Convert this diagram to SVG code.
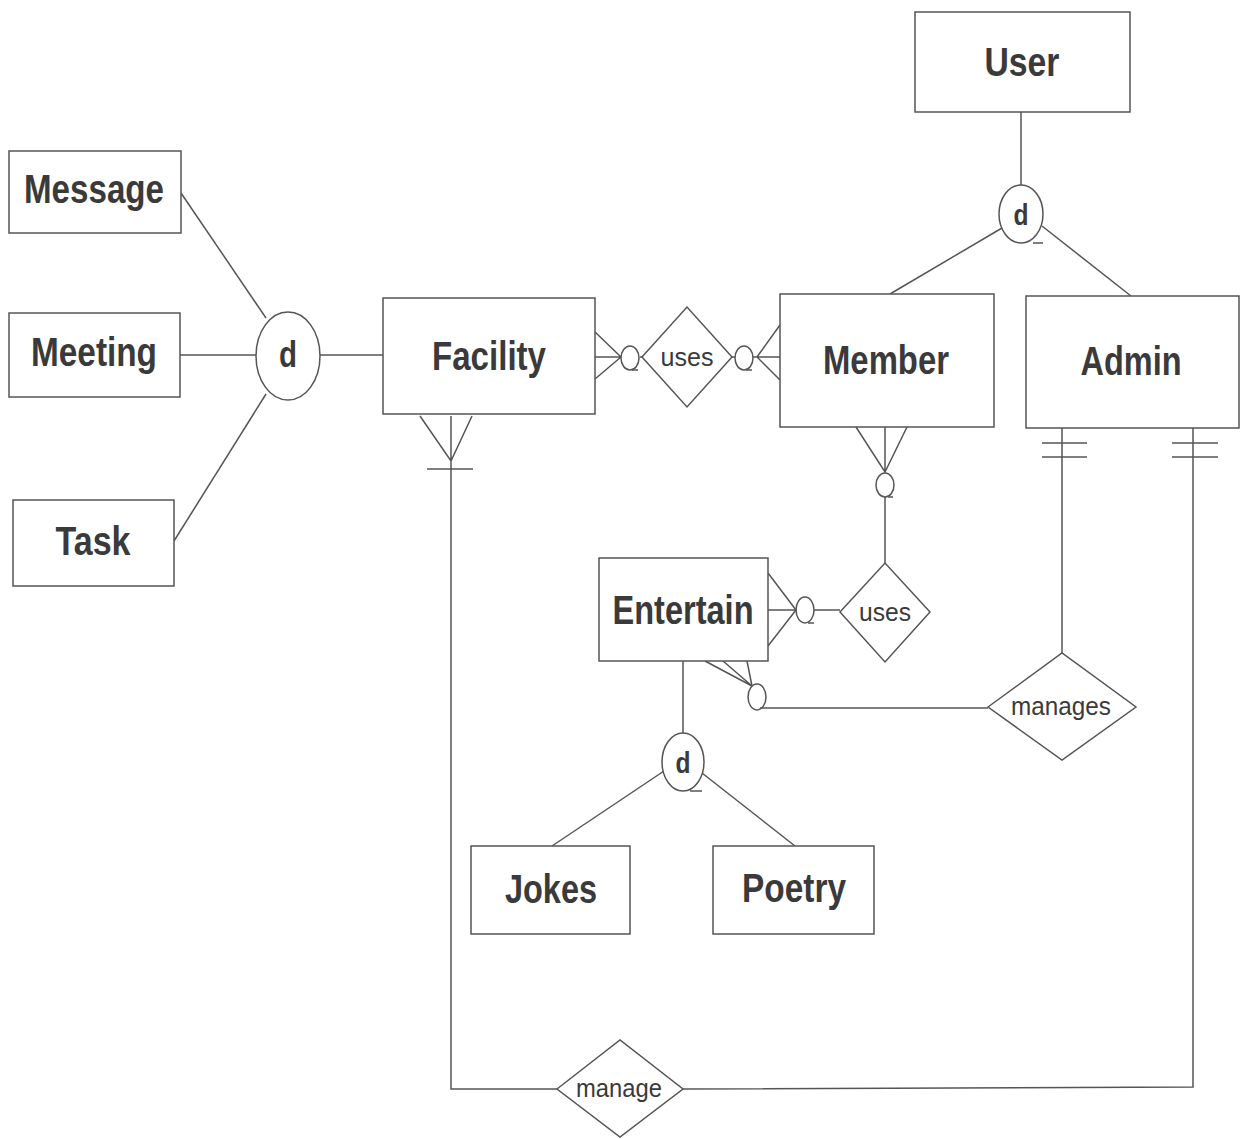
<svg xmlns="http://www.w3.org/2000/svg" width="1247" height="1139" viewBox="0 0 1247 1139">
<style>
.ent{fill:#fff;stroke:#555;stroke-width:1.5}
.rel{fill:#fff;stroke:#555;stroke-width:1.5}
.ln{fill:none;stroke:#555;stroke-width:1.5}
.t{font-family:"Liberation Sans Narrow","Liberation Sans",Arial,sans-serif;font-weight:bold;fill:#3a3a3a;text-anchor:middle}
.big{font-size:40px}
.sm{font-size:26px;font-weight:normal}
.dd{font-size:30px}
.dl{font-size:36px}
</style>
<rect width="1247" height="1139" fill="#fff"/>
<g id="connectors">
<line class="ln" x1="181" y1="193" x2="266" y2="318"/>
<line class="ln" x1="180" y1="355" x2="256" y2="355"/>
<line class="ln" x1="174" y1="541" x2="266" y2="394"/>
<line class="ln" x1="320" y1="355" x2="383" y2="355"/>
<line class="ln" x1="1021" y1="112" x2="1021" y2="185"/>
<line class="ln" x1="1002" y1="228" x2="890" y2="294"/>
<line class="ln" x1="1042" y1="226" x2="1131" y2="296"/>
<path class="ln" d="M1033 243 H1043"/>
<path class="ln" d="M595 332 L621 357 M595 357 H621 M595 379 L621 357"/>
<line class="ln" x1="640" y1="357" x2="642" y2="357"/>
<path class="ln" d="M632 370 H638"/>
<line class="ln" x1="732" y1="357" x2="735" y2="357"/>
<path class="ln" d="M753 357 H780 M780 325 L757 357 L780 380"/>
<path class="ln" d="M746 370 H752"/>
<path class="ln" d="M856 427 L885 472 L907 427 M885 427 V472"/>
<path class="ln" d="M885 497 V563"/>
<path class="ln" d="M888 497 H893"/>
<path class="ln" d="M768 573 L796 610 L768 646 M768 610 H796"/>
<path class="ln" d="M814 610 H840"/>
<path class="ln" d="M808 623 H814"/>
<path class="ln" d="M705 661 L752 686 M723 661 L752 686 M747 661 L752 686"/>
<path class="ln" d="M760 708 H988"/>
<path class="ln" d="M1062 428 V653"/>
<path class="ln" d="M1042 443 H1087 M1042 457 H1087"/>
<path class="ln" d="M1193 428 V1087 L683 1089"/>
<path class="ln" d="M1172 443 H1218 M1172 457 H1218"/>
<path class="ln" d="M420 416 L451 461 L472 416 M451 416 V1089 H557"/>
<path class="ln" d="M427 469 H473"/>
<path class="ln" d="M683 661 V733"/>
<line class="ln" x1="664" y1="771" x2="552" y2="846"/>
<line class="ln" x1="702" y1="773" x2="795" y2="846"/>
<path class="ln" d="M690 791 H702"/>
<ellipse class="ln" cx="630" cy="358" rx="9" ry="12" fill="#fff"/>
<ellipse class="ln" cx="744" cy="358" rx="9" ry="12" fill="#fff"/>
<ellipse class="ln" cx="885" cy="485" rx="9" ry="12" fill="#fff"/>
<ellipse class="ln" cx="805" cy="610" rx="9" ry="13" fill="#fff"/>
<ellipse class="ln" cx="757" cy="697" rx="9" ry="13" fill="#fff"/>
</g>
<g id="user"><rect class="ent" x="915" y="12" width="215" height="100"/><text class="t big" x="1022" y="76" textLength="75" lengthAdjust="spacingAndGlyphs">User</text></g>
<g id="message"><rect class="ent" x="9" y="151" width="172" height="82"/><text class="t big" x="94" y="203" textLength="140" lengthAdjust="spacingAndGlyphs">Message</text></g>
<g id="meeting"><rect class="ent" x="9" y="313" width="171" height="84"/><text class="t big" x="94" y="366" textLength="126" lengthAdjust="spacingAndGlyphs">Meeting</text></g>
<g id="task"><rect class="ent" x="13" y="500" width="161" height="86"/><text class="t big" x="93" y="555" textLength="75" lengthAdjust="spacingAndGlyphs">Task</text></g>
<g id="facility"><rect class="ent" x="383" y="298" width="212" height="116"/><text class="t big" x="489" y="370" textLength="114" lengthAdjust="spacingAndGlyphs">Facility</text></g>
<g id="member"><rect class="ent" x="780" y="294" width="214" height="133"/><text class="t big" x="886" y="374" textLength="126" lengthAdjust="spacingAndGlyphs">Member</text></g>
<g id="admin"><rect class="ent" x="1026" y="296" width="213" height="132"/><text class="t big" x="1131" y="375" textLength="101" lengthAdjust="spacingAndGlyphs">Admin</text></g>
<g id="entertain"><rect class="ent" x="599" y="558" width="169" height="103"/><text class="t big" x="683" y="624" textLength="141" lengthAdjust="spacingAndGlyphs">Entertain</text></g>
<g id="jokes"><rect class="ent" x="471" y="846" width="159" height="88"/><text class="t big" x="551" y="903" textLength="92" lengthAdjust="spacingAndGlyphs">Jokes</text></g>
<g id="poetry"><rect class="ent" x="713" y="846" width="161" height="88"/><text class="t big" x="794" y="902" textLength="104" lengthAdjust="spacingAndGlyphs">Poetry</text></g>
<g id="d-left"><ellipse class="rel" cx="288" cy="356" rx="32" ry="44"/><text class="t dl" x="288" y="367" textLength="18" lengthAdjust="spacingAndGlyphs">d</text></g>
<g id="d-user"><ellipse class="rel" cx="1021" cy="214" rx="22" ry="29"/><text class="t dd" x="1021" y="225" textLength="15" lengthAdjust="spacingAndGlyphs">d</text></g>
<g id="d-entertain"><ellipse class="rel" cx="683" cy="762" rx="21" ry="29"/><text class="t dd" x="683" y="773" textLength="15" lengthAdjust="spacingAndGlyphs">d</text></g>
<g id="uses1"><polygon class="rel" points="642,357 687,307 732,357 687,407"/><text class="t sm" x="687" y="366" textLength="53" lengthAdjust="spacingAndGlyphs">uses</text></g>
<g id="uses2"><polygon class="rel" points="840,612 885,563 930,612 885,662"/><text class="t sm" x="885" y="621" textLength="52" lengthAdjust="spacingAndGlyphs">uses</text></g>
<g id="manages"><polygon class="rel" points="988,707 1062,653 1136,707 1062,760"/><text class="t sm" x="1061" y="715" textLength="100" lengthAdjust="spacingAndGlyphs">manages</text></g>
<g id="manage"><polygon class="rel" points="557,1089 620,1040 683,1089 620,1137"/><text class="t sm" x="619" y="1097" textLength="86" lengthAdjust="spacingAndGlyphs">manage</text></g>
</svg>
